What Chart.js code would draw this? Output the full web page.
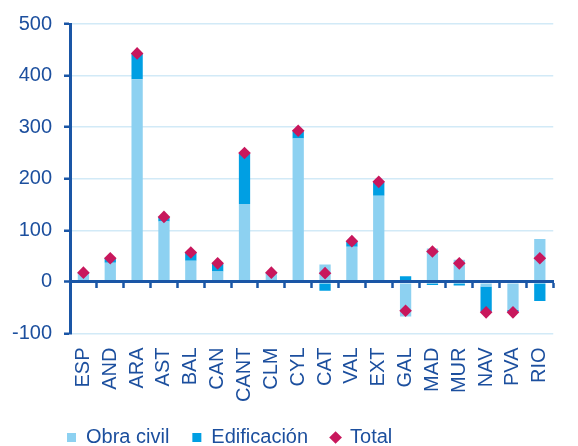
<!DOCTYPE html>
<html>
<head>
<meta charset="utf-8">
<script src="https://cdn.jsdelivr.net/npm/chart.js@4/dist/chart.umd.min.js"></script>
<style>
  html, body { margin: 0; padding: 0; background: #ffffff; }
  #wrap { width: 578px; height: 446px; }
</style>
</head>
<body>
<div id="wrap"><canvas id="c" width="578" height="446"></canvas></div>
<script>
// Data
const categories = ['ESP','AND','ARA','AST','BAL','CAN','CANT','CLM','CYL','CAT','VAL','EXT','GAL','MAD','MUR','NAV','PVA','RIO'];
const obraCivil   = [15, 37, 393, 117, 41, 20, 151, 15, 278, 34, 68, 167, -67, 65, 43, -9, -54, 83];
const edificacion = [3, 9, 50, 9, 15, 15, 98, 2, 14, -17, 11, 26, 11, -6, -7, -49, -4, -37];
const total       = [18, 46, 443, 126, 57, 36, 250, 18, 293, 17, 79, 194, -56, 59, 36, -59, -59, 46];
const yTicks = { min: -100, max: 500, step: 100 };

const TEXT = '#1c4f9e';
const AXIS = '#1a56a6';
const GRID = '#d2eaf7';
const LIGHT = '#8dd1f1';
const DARK = '#009fe3';
const DIAMOND = '#c8175c';
const FONT = { family: '"Liberation Sans", Arial, sans-serif', size: 20 };

// shifts the legend block to the right so it starts where the reference's does
const legendShift = {
  id: 'legendShift',
  afterLayout(chart) {
    const l = chart.legend;
    if (l) { l.left += 44; l.right += 44; }
  }
};

new Chart(document.getElementById('c'), {
  data: {
    labels: categories,
    datasets: [
      { type: 'bar', label: 'Obra civil', data: obraCivil, backgroundColor: LIGHT,
        stack: 'a', order: 1, pointStyle: 'rect', borderWidth: 0,
        barPercentage: 0.42, categoryPercentage: 1 },
      { type: 'bar', label: 'Edificación', data: edificacion, backgroundColor: DARK,
        stack: 'a', order: 1, pointStyle: 'rect', borderWidth: 0,
        barPercentage: 0.42, categoryPercentage: 1 },
      { type: 'line', label: 'Total', data: total, stack: 'total', order: 0,
        showLine: false, pointStyle: 'rectRot', pointRadius: 6.3, pointHoverRadius: 6.3,
        pointBorderWidth: 0, backgroundColor: DIAMOND, borderColor: DIAMOND,
        pointBackgroundColor: DIAMOND, pointBorderColor: DIAMOND }
    ]
  },
  options: {
    responsive: false,
    animation: false,
    devicePixelRatio: 1,
    events: [],
    layout: { padding: { left: 0, right: 0, top: 24, bottom: -11.5 } },
    scales: {
      x: {
        type: 'category',
        position: { y: 0 },
        stacked: true,
        offset: true,
        grid: { display: true, offset: true, drawOnChartArea: false, drawTicks: true,
                tickLength: 5, tickWidth: 2.5, tickColor: AXIS, z: 1 },
        border: { display: true, color: AXIS, width: 3, z: 1 },
        ticks: { display: false }
      },
      x2: {
        type: 'category',
        position: 'bottom',
        offset: true,
        grid: { display: false, drawTicks: false },
        border: { display: false },
        ticks: { autoSkip: false, minRotation: 90, maxRotation: 90, padding: 14,
                 color: TEXT, font: FONT },
        afterFit: (s) => { s.height = 71; }
      },
      y: {
        type: 'linear',
        position: 'left',
        stacked: true,
        min: yTicks.min, max: yTicks.max,
        ticks: { stepSize: yTicks.step, color: TEXT, font: FONT, padding: 12 },
        grid: {
          color: (ctx) => (ctx.tick && ctx.tick.value === 0) ? AXIS : GRID,
          lineWidth: (ctx) => (ctx.tick && ctx.tick.value === 0) ? 3 : 1.5,
          drawTicks: true, tickLength: 6, tickWidth: 2.5, tickColor: AXIS
        },
        border: { display: true, color: AXIS, width: 3 },
        afterFit: (s) => { s.width = 70; }
      }
    },
    plugins: {
      legend: {
        display: true,
        position: 'bottom',
        align: 'start',
        labels: {
          usePointStyle: true,
          boxWidth: 9, boxHeight: 9,
          padding: 23,
          color: TEXT,
          font: FONT,
          sort: (a, b) => a.datasetIndex - b.datasetIndex
        }
      },
      tooltip: { enabled: false }
    }
  },
  plugins: [legendShift]
});
</script>
</body>
</html>
